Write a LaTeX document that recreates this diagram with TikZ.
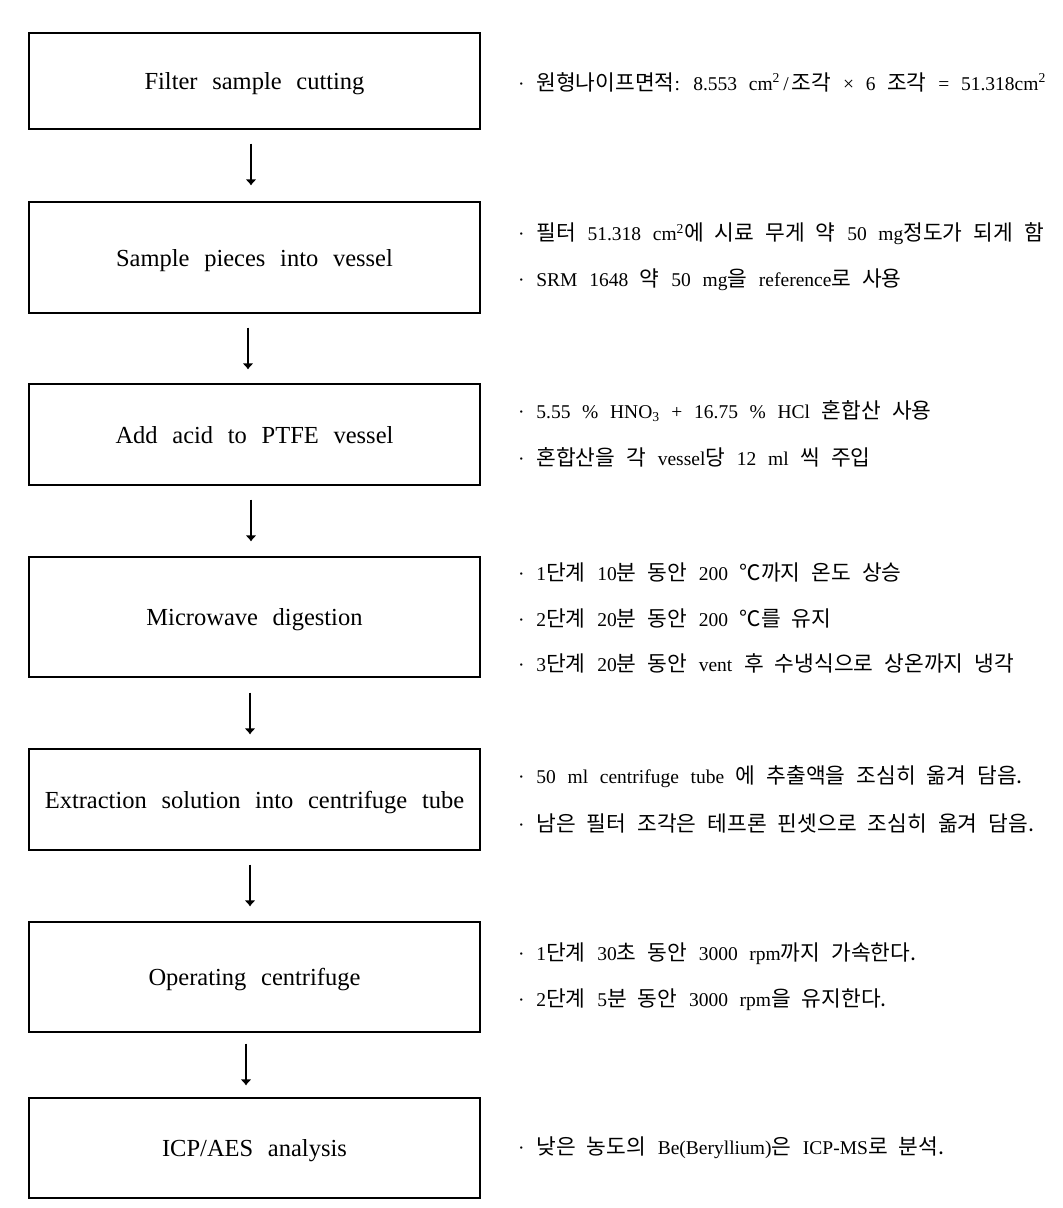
\documentclass[tikz,border=0pt]{standalone}
\usepackage{fontspec}
\setmainfont[WordSpace=2.4]{Liberation Serif}
\newfontfamily\kr[Scale=1.1,WordSpace=2.3]{Noto Sans CJK KR}
\usetikzlibrary{arrows.meta}
\tikzset{
  box/.style={draw, line width=1.1pt, minimum width=451pt, inner sep=0pt,
    text depth=0pt, font=\fontsize{24.5}{29}\selectfont},
  note/.style={anchor=west, inner sep=0pt, font=\fontsize{19.5}{23}\selectfont},
  arr/.style={line width=1.4pt, -{Latex[length=6pt,width=11pt]}}
}
\begin{document}
\begin{tikzpicture}[x=1pt,y=-1pt]
\useasboundingbox (0,0) rectangle (1063,1208);
% boxes
\node[box, minimum height=96pt]  (b1) at (254.5,81)    {Filter sample cutting};
\node[box, minimum height=111pt] (b2) at (254.5,257.5) {Sample pieces into vessel};
\node[box, minimum height=101pt] (b3) at (254.5,434.5) {Add acid to PTFE vessel};
\node[box, minimum height=120pt] (b4) at (254.5,617)   {Microwave digestion};
\node[box, minimum height=101pt] (b5) at (254.5,799.5) {Extraction solution into centrifuge tube};
\node[box, minimum height=110pt] (b6) at (254.5,977)   {Operating centrifuge};
\node[box, minimum height=100pt] (b7) at (254.5,1148)  {ICP/AES analysis};
% arrows
\draw[arr, shorten <=14pt, shorten >=16pt] ([xshift=-3.5pt]b1.south) -- ([xshift=-3.5pt]b2.north);
\draw[arr, shorten <=14pt, shorten >=14pt] ([xshift=-6.5pt]b2.south) -- ([xshift=-6.5pt]b3.north);
\draw[arr, shorten <=14pt, shorten >=15pt] ([xshift=-3.5pt]b3.south) -- ([xshift=-3.5pt]b4.north);
\draw[arr, shorten <=15pt, shorten >=14pt] ([xshift=-4.5pt]b4.south) -- ([xshift=-4.5pt]b5.north);
\draw[arr, shorten <=14pt, shorten >=15pt] ([xshift=-4.5pt]b5.south) -- ([xshift=-4.5pt]b6.north);
\draw[arr, shorten <=11pt, shorten >=12pt] ([xshift=-8.5pt]b6.south) -- ([xshift=-8.5pt]b7.north);
% notes
\node[note] (n11) at (518,82)   {· {\kr 원형나이프면적}: 8.553 cm\textsuperscript{2}\,/\,{\kr 조각} × 6 {\kr 조각} = 51.318cm\textsuperscript{2}};
\node[note] (n21) at (518,234)  {· {\kr 필터} 51.318 cm\textsuperscript{2}{\kr 에 시료 무게 약} 50 mg{\kr 정도가 되게 함}};
\node[note] (n22) at (518,280)  {· SRM 1648 {\kr 약} 50 mg{\kr 을} reference{\kr 로 사용}};
\node[note] (n31) at (518,411)  {· 5.55 \% HNO\textsubscript{3} + 16.75 \% HCl {\kr 혼합산 사용}};
\node[note] (n32) at (518,457)  {· {\kr 혼합산을 각} vessel{\kr 당} 12 ml {\kr 씩 주입}};
\node[note] (n41) at (518,572)  {· 1{\kr 단계} 10{\kr 분 동안} 200 {\kr ℃까지 온도 상승}};
\node[note] (n42) at (518,618)  {· 2{\kr 단계} 20{\kr 분 동안} 200 {\kr ℃를 유지}};
\node[note] (n43) at (518,663)  {· 3{\kr 단계} 20{\kr 분 동안} vent {\kr 후 수냉식으로 상온까지 냉각}};
\node[note] (n51) at (518,777)  {· 50 ml centrifuge tube {\kr 에 추출액을 조심히 옮겨 담음.}};
\node[note] (n52) at (518,823)  {· {\kr 남은 필터 조각은 테프론 핀셋으로 조심히 옮겨 담음.}};
\node[note] (n61) at (518,954)  {· 1{\kr 단계} 30{\kr 초 동안} 3000 rpm{\kr 까지 가속한다.}};
\node[note] (n62) at (518,1000) {· 2{\kr 단계} 5{\kr 분 동안} 3000 rpm{\kr 을 유지한다.}};
\node[note] (n71) at (518,1148) {· {\kr 낮은 농도의} Be(Beryllium){\kr 은} ICP-MS{\kr 로 분석.}};
\end{tikzpicture}
\end{document}
